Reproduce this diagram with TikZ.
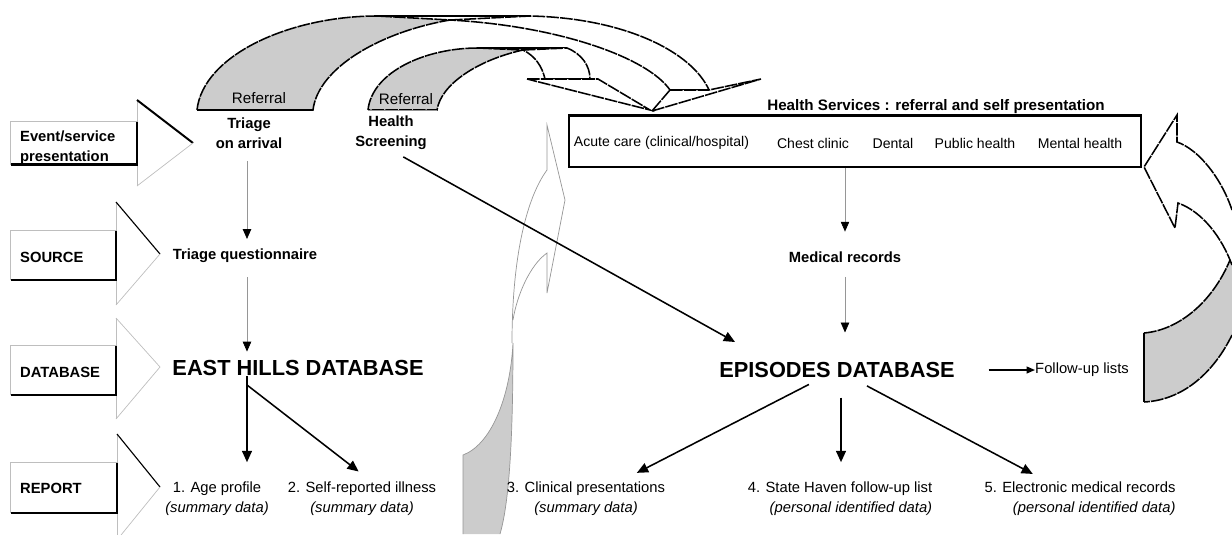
\documentclass[tikz,border=0pt]{standalone}
\usepackage{fontspec}
\setmainfont{Liberation Sans}
\usetikzlibrary{arrows.meta,calc}
\definecolor{refgray}{RGB}{204,204,204}
\definecolor{linegray}{RGB}{150,150,150}
\definecolor{edgegray}{RGB}{190,190,190}

\begin{document}
\begin{tikzpicture}[
    x=0.025cm, y=-0.025cm,
    rowbox/.style={inner xsep=0.23cm, inner ysep=0pt, align=left, font=\bfseries\fontsize{10.5}{14}\selectfont},
    steplbl/.style={inner sep=0pt, align=center, font=\bfseries\fontsize{10.5}{14}\selectfont},
    dblbl/.style={inner sep=0pt, font=\bfseries\fontsize{15.5}{18}\selectfont},
    plainlbl/.style={inner sep=0pt, font=\fontsize{10}{14}\selectfont},
    reportlbl/.style={inner sep=0pt, font=\fontsize{10.5}{14.2}\selectfont},
    lightedge/.style={draw=edgegray, line width=0.5pt},
    darkedge/.style={draw=black, line width=0.8pt},
    heavyedge/.style={draw=black, line width=1.4pt},
    arcedge/.style={draw=black, line width=1.1pt, dash pattern=on 9pt off 0.8pt},
    arcback/.style={arcedge, fill=refgray},
    arcfront/.style={arcedge, fill=white},
    basebar/.style={draw=black, line width=1.8pt},
    thinedge/.style={draw=linegray, line width=0.5pt},
    grayarrow/.style={draw=linegray, line width=0.5pt, -{Triangle[length=7pt,width=6pt,color=black]}},
    blackarrow/.style={draw=black, line width=1.1pt, -{Triangle[length=8pt,width=7pt]}}
  ]
\useasboundingbox (0,0) rectangle (1232,534);

% row arrows on the left
\foreach \bx/\ty/\tx/\my/\by/\upst in {137/100/193/143/186/heavyedge,116/202/160/254/305/darkedge,116/318/160/367/419/lightedge,117/434/160/487/540/darkedge}{
  \draw[lightedge] (\bx,\ty) -- (\bx,\by);
  \draw[\upst] (\bx,\ty) -- (\tx,\my);
  \draw[lightedge] (\tx,\my) -- (\bx,\by);
}
\node[rowbox, minimum width=3.15cm, minimum height=1cm, text width=2.69cm] (eventbox) at (74,143) {\rule{0pt}{14pt}Event/service\\presentation};
\node[rowbox, minimum width=2.625cm, minimum height=1.225cm, text width=2.165cm] (sourcebox) at (63.5,255.5) {\rule{0pt}{10pt}SOURCE};
\node[rowbox, minimum width=2.625cm, minimum height=1.225cm, text width=2.165cm] (dbbox) at (63.5,370.5) {\rule{0pt}{10pt}DATABASE};
\node[rowbox, minimum width=2.65cm, minimum height=1.25cm, text width=2.19cm] (reportbox) at (64,488) {REPORT};
\foreach \b in {eventbox,sourcebox,dbbox,reportbox}{
  \draw[lightedge] (\b.south west) -- (\b.north west) -- (\b.north east);
  \draw[black, line width=1.6pt] (\b.north east) -- (\b.south east) -- (\b.south west);
}

% referral arcs
\filldraw[arcback] (368,110) .. controls (372,72) and (425,48) .. (478,48) -- (523,50) .. controls (478,60) and (441,84) .. (437,110) -- cycle;
\draw[thinedge] (368,110) -- (437,110);
\draw[basebar] (478,48) -- (567,48);
\filldraw[arcfront] (523,50) -- (567,48) .. controls (582,54) and (590,66) .. (590,79) -- (545,79) .. controls (542,66) and (535,56) .. (523,50) -- cycle;
\filldraw[arcfront] (527,79) -- (598,79) -- (650,110) -- cycle;

\filldraw[arcback] (197,110) .. controls (203,55) and (290,16) .. (377,16) -- (450,20) .. controls (380,32) and (318,68) .. (313,110) -- cycle;
\draw[basebar] (197,110) -- (313,110);
\draw[basebar] (377,16) -- (530,16);
\filldraw[arcfront] (450,20) -- (530,16) .. controls (625,18) and (692,52) .. (709,90) -- (670,90) .. controls (648,58) and (560,26) .. (450,20) -- cycle;
\filldraw[arcfront] (670,90) -- (709,90) -- (761,79) -- (652,111) -- cycle;

\node[plainlbl, font=\fontsize{10.8}{13}\selectfont] (referral1) at (259,98) {Referral};
\node[plainlbl, font=\fontsize{10.8}{13}\selectfont] (referral2) at (406,99) {Referral};

% curved arrow in the middle
\fill[refgray] (463,455) .. controls (490,445) and (510,400) .. (513,343) .. controls (513,430) and (510,500) .. (500,534) -- (463,534) -- cycle;
\draw[thinedge] (463,534) -- (463,455) .. controls (490,445) and (510,400) .. (513,343) .. controls (513,430) and (510,500) .. (500,534);
\filldraw[thinedge, fill=white] (512,343) .. controls (512,262) and (525,200) .. (547,170) -- (547,125) -- (565,200) -- (547,293) -- (547,253) .. controls (530,265) and (517,295) .. (513,320);

% curved arrow on the right
\fill[refgray] (1144,333) .. controls (1180,330) and (1215,300) .. (1232,255) -- (1232,335) .. controls (1215,370) and (1185,400) .. (1144,402) -- cycle;
\draw[arcedge] (1144,333) .. controls (1180,330) and (1215,300) .. (1232,255);
\draw[arcedge] (1232,335) .. controls (1215,370) and (1185,400) .. (1144,402);
\draw[black, line width=1.2pt] (1144,333) -- (1144,402);
\filldraw[arcedge, fill=white] (1232,210) .. controls (1222,180) and (1200,150) .. (1177,142) -- (1177,115) -- (1144,167) -- (1175,228) -- (1178,203) .. controls (1203,212) and (1222,238) .. (1232,265);

% health services
\node[steplbl, font=\bfseries\fontsize{10.8}{13}\selectfont] (svctitle) at (936,107) {Health Services : referral and self presentation};
\node[draw=black, line width=1.2pt, fill=white, minimum width=14.3cm, minimum height=1.275cm, inner sep=0pt] (services) at (855,141.5) {};
\draw[black, line width=2.2pt] (services.north west) -- (services.north east);
\node[plainlbl] (acute) at (661.5,143) {Acute care (clinical/hospital)};
\node[plainlbl] (chest) at (813,143) {Chest clinic};
\node[plainlbl] (dental) at (893,143) {Dental};
\node[plainlbl] (public) at (975,143) {Public health};
\node[plainlbl] (mental) at (1080,143) {Mental health};

% steps
\node[steplbl] (triage) at (249,133) {Triage\\on arrival};
\node[steplbl] (screening) at (391,133) {Health\\Screening};
\node[steplbl] (triageq) at (245,256) {Triage questionnaire};
\node[steplbl] (medrec) at (845,257) {Medical records};
\node[dblbl] (eastdb) at (298,368) {EAST HILLS DATABASE};
\node[dblbl] (epidb) at (837,370) {EPISODES DATABASE};
\node[reportlbl] (followup) at (1082,370) {Follow-up lists};

\node[reportlbl, align=center] (age) at (217,499) {1. Age profile\\\textit{(summary data)}};
\node[reportlbl, align=center] (selfrep) at (362,499) {2. Self-reported illness\\\textit{(summary data)}};
\node[reportlbl, align=center] (clin) at (586,499) {3. Clinical presentations\\\textit{(summary data)}};
\node[reportlbl, align=right] (haven) at (840,499) {4. State Haven follow-up list\\\textit{(personal identified data)}};
\node[reportlbl, align=right] (emr) at (1080,499) {5. Electronic medical records\\\textit{(personal identified data)}};

% connectors
\coordinate (triagecol) at (247,0);
\coordinate (havencol) at (841,0);
\coordinate (ehfork) at (247,385);
\draw[grayarrow, shorten <=9pt, shorten >=7pt] (triage.south -| triagecol) -- (triageq.north -| triagecol);
\draw[grayarrow, shorten <=10pt, shorten >=6pt] (triageq.south -| triagecol) -- (eastdb.north -| triagecol);
\draw[grayarrow, shorten >=14pt] (services.south -| medrec) -- (medrec.north);
\draw[grayarrow, shorten <=10pt, shorten >=21pt] (medrec.south) -- (medrec.south |- epidb.north);
\draw[blackarrow, shorten <=10pt] (screening.south) -- ($(epidb.west)+(16,-28)$);
\draw[black, line width=1.1pt] (eastdb.south -| ehfork) -- (ehfork);
\draw[blackarrow, shorten >=14pt] (ehfork) -- (ehfork |- age.north);
\draw[blackarrow, shorten >=12pt] (ehfork) -- ($(selfrep.north)+(10,0)$);
\draw[blackarrow, shorten <=10pt, shorten >=14pt] (epidb) -- (clin);
\draw[blackarrow, shorten <=14pt, shorten >=14pt] (epidb.south -| havencol) -- (haven.north -| havencol);
\draw[blackarrow, shorten <=12pt, shorten >=12pt] (epidb) -- (emr);
\draw[black, line width=0.8pt, -{Triangle[length=6pt,width=5pt]}, shorten <=24pt] (epidb.east) -- (followup.west);
\end{tikzpicture}
\end{document}
